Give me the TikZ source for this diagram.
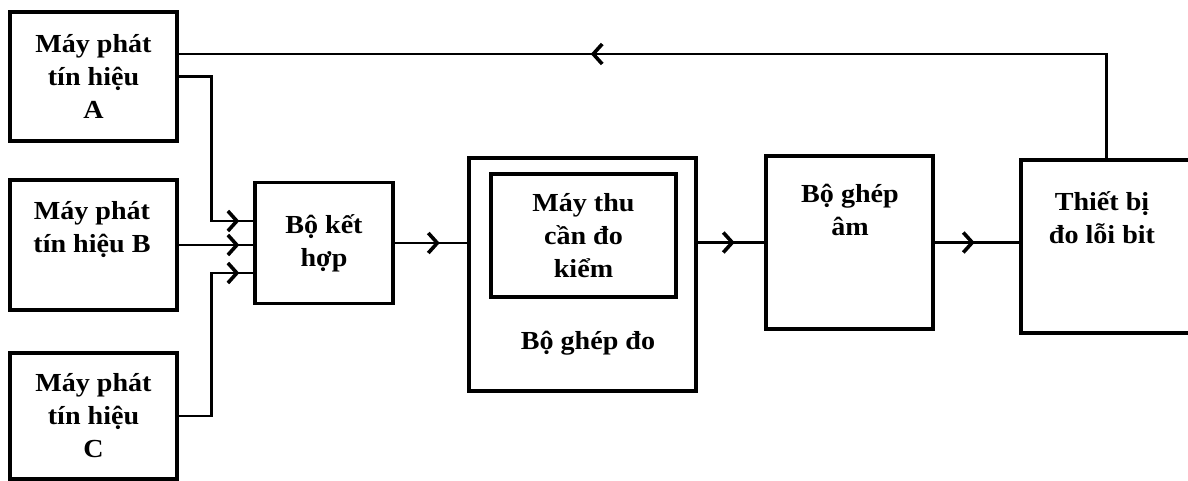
\documentclass[tikz,border=0pt]{standalone}
\usepackage{fontspec}
\setmainfont{Liberation Serif}[FakeStretch=1.08]
\usetikzlibrary{arrows.meta, positioning, decorations.markings}

\begin{document}
\begin{tikzpicture}[
    x=1pt, y=-1pt,
    every node/.style={font=\bfseries\fontsize{26}{33}\selectfont, align=center, inner sep=0pt},
    blk/.style={draw=black, line width=3.4pt},
    flow/.style={line width=2.8pt},
    tip/.style={postaction={decorate}, decoration={markings,
        mark=at position #1 with {\arrow{Straight Barb[length=9pt, width=20pt, line width=3.6pt]}}}}
]
\useasboundingbox (0,0) rectangle (1188,480);

% signal generators
\node[blk, minimum width=167pt, minimum height=129pt] (genA) at (93.5,76.5) {Máy phát\\tín hiệu\\A};
\node[blk, minimum width=167pt, minimum height=130pt] (genB) at (93.5,245) {};
\node (labB) at (92,230) {Máy phát\\tín hiệu B};
\node[blk, minimum width=167pt, minimum height=126pt] (genC) at (93.5,416) {Máy phát\\tín hiệu\\C};

% combiner
\node[blk, minimum width=138pt, minimum height=121pt] (mix) at (324,243) {Bộ kết\\hợp};

% test coupler with the receiver inside
\node[blk, minimum width=227pt, minimum height=233pt] (coupler) at (582.5,274.5) {};
\node[blk, minimum width=185pt, minimum height=123pt] (rx) at (583.5,235.5) {Máy thu\\cần đo\\kiểm};
\node (labcoupler) at (588,343) {Bộ ghép đo};

% acoustic coupler
\node[blk, minimum width=167pt, minimum height=173pt] (acoup) at (849.5,242.5) {};
\node (labacoup) at (850,210) {Bộ ghép\\âm};

% bit error meter
\node[blk, minimum width=171pt, minimum height=173pt] (meter) at (1106.5,246.5) {};
\node (labmeter) at (1102,218) {Thiết bị\\đo lỗi bit};

% inputs to the combiner
\draw[flow, tip=-14pt] (genA.east) -- ++(33,0) |- ([yshift=22pt]mix.west);
\draw[flow, tip=-14pt] (genB.east) -- (genB.east -| mix.west);
\draw[flow, tip=-14pt] (genC.east) -- ++(33,0) |- ([yshift=-30pt]mix.west);

% main chain
\draw[flow, tip=45pt] (mix.east) -- (mix.east -| coupler.west);
\draw[flow, tip=37pt] (acoup.west -| coupler.east) -- (acoup.west);
\draw[flow, tip=40pt] (acoup.east) -- (acoup.east -| meter.west);

% feedback to generator A
\draw[flow, tip=620pt] (meter.north) |- ([yshift=22.5pt]genA.east);
\end{tikzpicture}
\end{document}
